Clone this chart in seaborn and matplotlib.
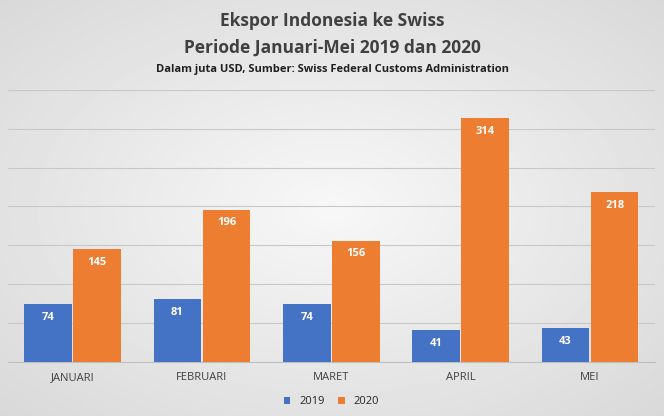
import numpy as np
import pandas as pd
import matplotlib.pyplot as plt
import seaborn as sns

months = ['JANUARI', 'FEBRUARI', 'MARET', 'APRIL', 'MEI']
ekspor_2019 = [74, 81, 74, 41, 43]
ekspor_2020 = [145, 196, 156, 314, 218]

df = pd.DataFrame({
    'bulan': months * 2,
    'tahun': ['2019'] * 5 + ['2020'] * 5,
    'nilai': ekspor_2019 + ekspor_2020,
})

sns.set_style('white')
plt.rcParams['font.family'] = ['Open Sans', 'DejaVu Sans']

fig = plt.figure(figsize=(6.64, 4.16), dpi=100)

# radial grey background
bg = fig.add_axes([0, 0, 1, 1], zorder=-10)
yy, xx = np.mgrid[-1:1:200j, -1:1:300j]
r = np.sqrt(xx**2 + yy**2)
bg.imshow(0.97 - 0.12 * r / r.max(), cmap='gray', vmin=0, vmax=1, aspect='auto', extent=[0, 1, 0, 1])
bg.axis('off')

ax = fig.add_axes([0.012, 0.13, 0.974, 0.654])
ax.patch.set_alpha(0)
sns.barplot(data=df, x='bulan', y='nilai', hue='tahun', palette=['#4472C4', '#ED7D31'],
            saturation=1, linewidth=0, width=0.76, gap=0.03, ax=ax, zorder=3)
ax.set_ylim(0, 350)
ax.set_yticks(range(0, 351, 50))
ax.set_yticklabels([])
ax.tick_params(left=False, bottom=False)
ax.grid(axis='y', color='#c8c8c8', linewidth=0.8, zorder=0)
ax.set_axisbelow(True)
for s in ['top', 'right', 'left']:
    ax.spines[s].set_visible(False)
ax.spines['bottom'].set_color('#bfbfbf')
ax.set_xlabel('')
ax.set_ylabel('')
ax.set_xticks(range(len(months)))
ax.set_xticklabels(months, fontsize=8, color='#404040')

for cont in ax.containers:
    for bar in cont:
        h = bar.get_height()
        ax.text(bar.get_x() + bar.get_width() / 2, h - 10, f'{int(h)}', ha='center', va='top',
                color='white', fontsize=8, fontweight='bold', zorder=5)

ax.legend(loc='upper center', bbox_to_anchor=(0.5, -0.09), ncol=2, frameon=False,
          fontsize=8, handlelength=0.6, handleheight=0.6, columnspacing=1.2)

fig.text(0.5, 0.95, 'Ekspor Indonesia ke Swiss', ha='center', va='center',
         fontsize=12.5, fontweight='bold', color='#404040')
fig.text(0.5, 0.885, 'Periode Januari-Mei 2019 dan 2020', ha='center', va='center',
         fontsize=12.5, fontweight='bold', color='#404040')
fig.text(0.5, 0.833, 'Dalam juta USD, Sumber: Swiss Federal Customs Administration', ha='center',
         va='center', fontsize=8, fontweight='bold', color='#202020')

fig.savefig('out.png', dpi=100)
